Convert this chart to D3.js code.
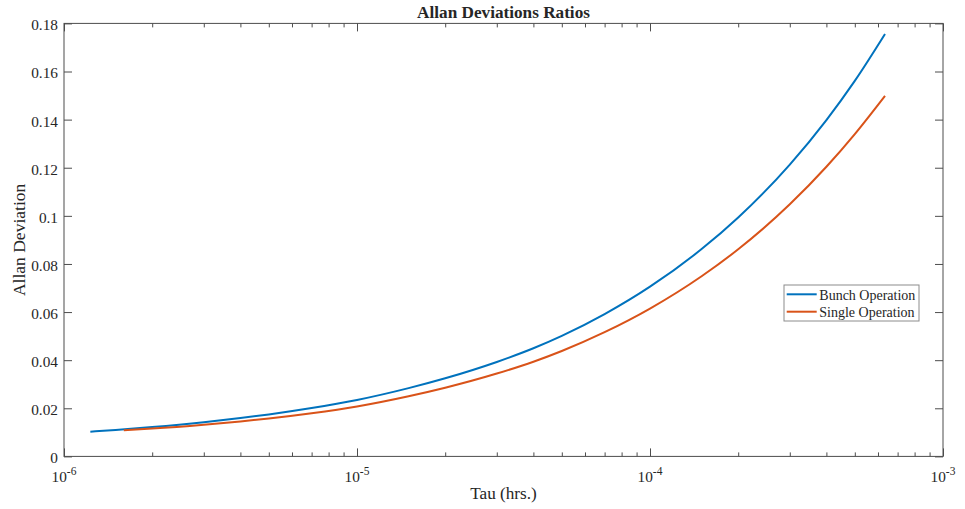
<!DOCTYPE html>
<html>
<head>
<meta charset="utf-8">
<script src="https://cdn.jsdelivr.net/npm/d3@7"></script>
<style>
  body { margin: 0; background: #ffffff; }
  text { font-family: "Liberation Serif", "Times New Roman", serif; fill: #262626; }
</style>
</head>
<body>
<svg id="chart" width="965" height="509"></svg>
<script>
// Averaging time (hours) and Allan deviation for each mode of operation
const bunchTau = [1.23e-6, 1.5e-6, 2e-6, 3e-6, 4e-6, 5e-6, 7e-6, 1e-5, 1.5e-5, 2e-5, 3e-5,
                  4e-5, 5e-5, 7e-5, 1e-4, 1.5e-4, 2e-4, 3e-4, 4e-4, 5e-4, 6.34e-4];
const bunchDev = [0.01028, 0.01102, 0.01222, 0.01424, 0.01595, 0.01745, 0.02010, 0.02347,
                  0.02839, 0.03248, 0.03927, 0.04494, 0.05009, 0.05915, 0.07055, 0.08618,
                  0.09932, 0.1213, 0.1398, 0.1561, 0.1756];
const singleTau = [1.6e-6, 2e-6, 3e-6, 4e-6, 5e-6, 7e-6, 1e-5, 1.5e-5, 2e-5, 3e-5, 4e-5,
                   5e-5, 7e-5, 1e-4, 1.5e-4, 2e-4, 3e-4, 4e-4, 5e-4, 6.34e-4];
const singleDev = [0.01085, 0.01155, 0.01317, 0.01454, 0.01576, 0.01795, 0.02077, 0.02501,
                   0.02855, 0.03444, 0.03937, 0.04383, 0.05164, 0.06145, 0.07488, 0.08611,
                   0.1048, 0.1204, 0.1340, 0.1499];

const seriesNames = ["Bunch Operation", "Single Operation"];
const seriesColors = ["#0072BD", "#D95319"];

const yTicks = [0, 0.02, 0.04, 0.06, 0.08, 0.1, 0.12, 0.14, 0.16, 0.18];
const yTickLabels = ["0", "0.02", "0.04", "0.06", "0.08", "0.1", "0.12", "0.14", "0.16", "0.18"];
const xDecades = [-6, -5, -4, -3];
const xTickLabels = ["-6", "-5", "-4", "-3"];

const titleText = "Allan Deviations Ratios";
const xLabelText = "Tau (hrs.)";
const yLabelText = "Allan Deviation";

// Plot box
const L = 64, R = 943, T = 23.4, B = 456.4;
const axisColor = "#4d4d4d";

const svg = d3.select("#chart");

const x = d3.scaleLog().domain([1e-6, 1e-3]).range([L, R]);
const y = d3.scaleLinear().domain([0, 0.18]).range([B, T]);

const majorX = xDecades.map(d => Math.pow(10, d));
const minorX = [];
xDecades.slice(0, -1).forEach(d => {
  for (let k = 2; k <= 9; k++) minorX.push(k * Math.pow(10, d));
});

function styleAxis(g) {
  g.select(".domain").remove();
  g.selectAll(".tick line").attr("stroke", axisColor).attr("stroke-width", 1);
}

// Bottom axis: inward major + minor ticks
svg.append("g").attr("transform", `translate(0,${B})`)
  .call(d3.axisBottom(x).tickValues(majorX).tickSize(-8).tickFormat(""))
  .call(styleAxis);
svg.append("g").attr("transform", `translate(0,${B})`)
  .call(d3.axisBottom(x).tickValues(minorX).tickSize(-4).tickFormat(""))
  .call(styleAxis);
// Top axis mirror ticks
svg.append("g").attr("transform", `translate(0,${T})`)
  .call(d3.axisTop(x).tickValues(majorX).tickSize(-8).tickFormat(""))
  .call(styleAxis);
svg.append("g").attr("transform", `translate(0,${T})`)
  .call(d3.axisTop(x).tickValues(minorX).tickSize(-4).tickFormat(""))
  .call(styleAxis);

// Left axis with labels
const yLeft = svg.append("g").attr("transform", `translate(${L},0)`)
  .call(d3.axisLeft(y).tickValues(yTicks).tickSize(-8).tickPadding(6)
    .tickFormat((d, i) => yTickLabels[i]))
  .call(styleAxis);
yLeft.selectAll(".tick text")
  .attr("font-family", "Liberation Serif")
  .attr("font-size", 15.3)
  .attr("fill", "#262626")
  .attr("dy", "0.42em");
// Right axis mirror ticks
svg.append("g").attr("transform", `translate(${R},0)`)
  .call(d3.axisRight(y).tickValues(yTicks).tickSize(-8).tickFormat(""))
  .call(styleAxis);

// Box
svg.append("rect")
  .attr("x", L).attr("y", T)
  .attr("width", R - L).attr("height", B - T)
  .attr("fill", "none")
  .attr("stroke", axisColor)
  .attr("stroke-width", 1);

// Decade labels as 10 with superscript exponent
const xl = svg.append("g").selectAll("text")
  .data(majorX)
  .join("text")
  .attr("x", d => x(d))
  .attr("y", B + 25.5)
  .attr("text-anchor", "middle")
  .attr("font-size", 15.3);
xl.append("tspan").text("10");
xl.append("tspan")
  .attr("dy", -6.5)
  .attr("font-size", 11.5)
  .text((d, i) => xTickLabels[i]);

// Curves
const line = d3.line()
  .x(d => x(d[0]))
  .y(d => y(d[1]))
  .curve(d3.curveMonotoneX);

const series = [
  bunchTau.map((t, i) => [t, bunchDev[i]]),
  singleTau.map((t, i) => [t, singleDev[i]])
];

svg.append("g").selectAll("path")
  .data(series)
  .join("path")
  .attr("d", line)
  .attr("fill", "none")
  .attr("stroke", (d, i) => seriesColors[i])
  .attr("stroke-width", 2);

// Title and axis labels
svg.append("text")
  .attr("x", (L + R) / 2).attr("y", 18.3)
  .attr("text-anchor", "middle")
  .attr("font-size", 17.2)
  .attr("font-weight", "bold")
  .attr("fill", "#000")
  .text(titleText);

svg.append("text")
  .attr("x", (L + R) / 2).attr("y", 499)
  .attr("text-anchor", "middle")
  .attr("font-size", 17.2)
  .text(xLabelText);

svg.append("text")
  .attr("transform", `translate(25,${(T + B) / 2}) rotate(-90)`)
  .attr("text-anchor", "middle")
  .attr("font-size", 17.5)
  .text(yLabelText);

// Legend
const lg = svg.append("g");
lg.append("rect")
  .attr("x", 784).attr("y", 285)
  .attr("width", 135).attr("height", 36)
  .attr("fill", "#fff")
  .attr("stroke", "#8c8c8c")
  .attr("stroke-width", 1);
const entries = lg.selectAll("g.entry")
  .data(seriesNames)
  .join("g")
  .attr("class", "entry")
  .attr("transform", (d, i) => `translate(0,${294.3 + i * 17.4})`);
entries.append("line")
  .attr("x1", 786.7).attr("x2", 816.7)
  .attr("y1", 0).attr("y2", 0)
  .attr("stroke", (d, i) => seriesColors[i])
  .attr("stroke-width", 2);
entries.append("text")
  .attr("x", 819.3).attr("y", 5.4)
  .attr("font-size", 14)
  .text(d => d);
</script>
</body>
</html>
